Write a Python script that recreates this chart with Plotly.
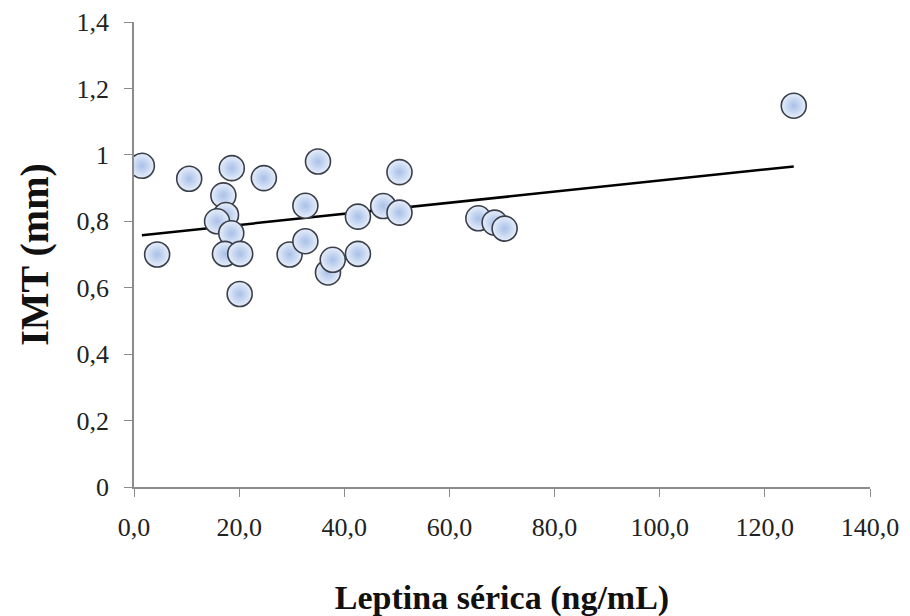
import numpy as np
import plotly.graph_objects as go

leptina = [1.5, 4.4, 10.5, 17.0, 17.5, 15.8, 18.6, 18.5, 17.3, 20.2, 20.1, 24.7,
           29.6, 32.6, 32.6, 35.0, 36.9, 37.8, 42.6, 42.6, 47.4, 50.5, 50.5,
           65.5, 68.6, 70.5, 125.5]
imt = [0.967, 0.700, 0.928, 0.878, 0.819, 0.800, 0.960, 0.764, 0.702, 0.702, 0.581, 0.930,
       0.700, 0.740, 0.847, 0.980, 0.646, 0.684, 0.702, 0.814, 0.846, 0.948, 0.826,
       0.809, 0.796, 0.778, 1.148]

x_ticks = [0, 20, 40, 60, 80, 100, 120, 140]
x_ticklabels = ["0,0", "20,0", "40,0", "60,0", "80,0", "100,0", "120,0", "140,0"]
y_ticks = [0, 0.2, 0.4, 0.6, 0.8, 1.0, 1.2, 1.4]
y_ticklabels = ["0", "0,2", "0,4", "0,6", "0,8", "1", "1,2", "1,4"]

slope, intercept = np.polyfit(leptina, imt, 1)
trend_x = [min(leptina), max(leptina)]
trend_y = [intercept + slope * v for v in trend_x]

fig = go.Figure()
fig.add_trace(go.Scatter(
    x=trend_x, y=trend_y, mode="lines",
    line=dict(color="black", width=2.5), hoverinfo="skip", showlegend=False))
fig.add_trace(go.Scatter(
    x=leptina, y=imt, mode="markers",
    marker=dict(size=25, color="#e6eefa",
                gradient=dict(type="radial", color="#a9c0e8"),
                line=dict(color="#3a3f4a", width=1.6)),
    showlegend=False))

font_family = "Liberation Serif, Times New Roman, serif"
fig.update_layout(
    width=910, height=616,
    margin=dict(l=126, r=48, t=14, b=137),
    plot_bgcolor="white", paper_bgcolor="white",
    font=dict(family=font_family, color="#222", size=26),
    xaxis=dict(range=[0, 140], tickvals=x_ticks, ticktext=x_ticklabels,
               automargin=False, ticklabelstandoff=8,
               showgrid=False, zeroline=False, showline=True, linecolor="#8c8c8c",
               linewidth=1.5, ticks="outside", ticklen=8, tickcolor="#8c8c8c",
               tickfont=dict(size=26, family=font_family),
               title=dict(text="<b>Leptina sérica (ng/mL)</b>", standoff=44,
                          font=dict(size=34, family=font_family, color="#111"))),
    yaxis=dict(range=[0, 1.4], tickvals=y_ticks, ticktext=y_ticklabels,
               automargin=False, ticklabelstandoff=10,
               showgrid=False, zeroline=False, showline=True, linecolor="#8c8c8c",
               linewidth=1.5, ticks="outside", ticklen=8, tickcolor="#8c8c8c",
               tickfont=dict(size=26, family=font_family),
               title=dict(text="<b>IMT (mm)</b>", standoff=16,
                          font=dict(size=40, family=font_family, color="#111"))),
)
fig.write_html("out.html")
